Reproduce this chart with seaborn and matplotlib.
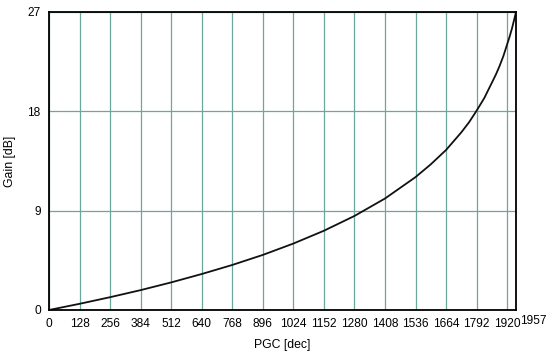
import seaborn as sns
import matplotlib.pyplot as plt
import pandas as pd

# values
pgc = [0, 128, 256, 384, 512, 640, 768, 896, 1024, 1152, 1280, 1408,
       1536, 1600, 1664, 1728, 1760, 1792, 1824, 1856, 1872, 1888, 1904,
       1920, 1930, 1940, 1948, 1957]
gain = [0, 0.56, 1.16, 1.8, 2.5, 3.26, 4.08, 4.99, 6.02, 7.18, 8.52, 10.1,
        12.04, 13.2, 14.5, 16.1, 17.0, 18.06, 19.2, 20.6, 21.3, 22.1, 23.0,
        24.08, 24.75, 25.5, 26.2, 27.0]
x_ticks = [0, 128, 256, 384, 512, 640, 768, 896, 1024, 1152, 1280, 1408,
           1536, 1664, 1792, 1920]
y_ticks = [0, 9, 18, 27]

df = pd.DataFrame({"PGC": pgc, "Gain": gain})

sns.set_style("white")
plt.rcParams["font.family"] = ["Liberation Sans", "DejaVu Sans"]

fig = plt.figure(figsize=(5.52, 3.61), dpi=100)
ax = fig.add_axes([0.0888, 0.1413, 0.846, 0.8255])

ax.set_xlim(0, 1957)
ax.set_ylim(0, 27)
ax.set_xticks(x_ticks)
ax.set_yticks(y_ticks)
ax.grid(True, color="#6aa79c", linewidth=0.9)
ax.set_axisbelow(True)

sns.lineplot(data=df, x="PGC", y="Gain", ax=ax, color="#111111", linewidth=1.3)

for s in ax.spines.values():
    s.set_color("black")
    s.set_linewidth(1.3)

ax.tick_params(axis="both", length=0, labelsize=8.6, pad=6, labelcolor="black")
ax.text(1957 + 72, -0.45, "1957", fontsize=8.6, ha="center", va="top", color="black")

ax.set_xlabel("PGC [dec]", fontsize=8.8, labelpad=6, color="black")
ax.set_ylabel("Gain [dB]", fontsize=8.8, labelpad=8, color="black")

fig.savefig("out.png", dpi=100)
